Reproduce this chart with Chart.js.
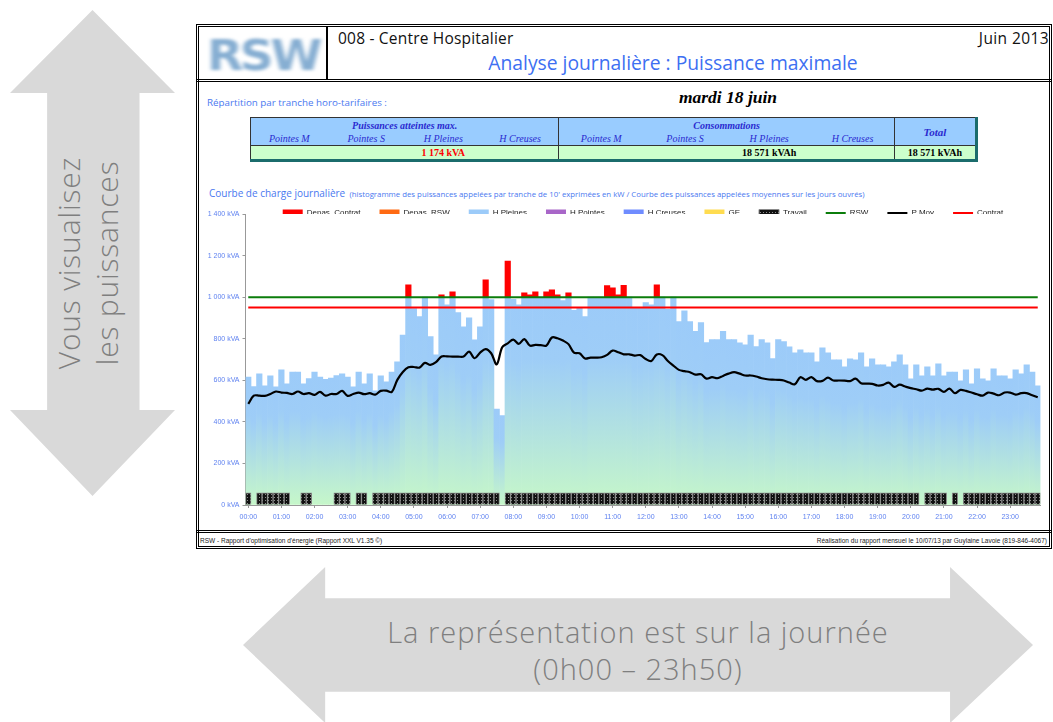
<!DOCTYPE html>
<html>
<head>
<meta charset="utf-8">
<script src="https://cdn.jsdelivr.net/npm/chart.js"></script>
<style>
  body { margin: 0; width: 1053px; height: 722px; background: #fff; position: relative; overflow: hidden; font-family: "Open Sans", sans-serif; }
  .abs { position: absolute; white-space: nowrap; }
  /* flèches grises */
  .fleche-v { left: 10px; top: 10px; width: 165px; height: 486px; background: #d9d9d9;
    clip-path: polygon(50% 0, 100% 17.1%, 78.5% 17.1%, 78.5% 82.3%, 100% 82.3%, 50% 100%, 0 82.3%, 22.5% 82.3%, 22.5% 17.1%, 0 17.1%); }
  .fleche-h { left: 243px; top: 567px; width: 790px; height: 156px; background: #d9d9d9;
    clip-path: polygon(0 50%, 10.4% 0, 10.4% 20%, 89.5% 20%, 89.5% 0, 100% 50%, 89.5% 100%, 89.5% 80%, 10.4% 80%, 10.4% 100%); }
  .txt-v { left: -62px; top: 225px; width: 300px; text-align: center; transform: rotate(-90deg); font-size: 30px; line-height: 38px; letter-spacing: 0.8px; color: #7f7f7f; font-weight: 300; white-space: normal; }
  .txt-h { left: 288px; top: 613px; width: 700px; text-align: center; font-size: 29px; line-height: 37px; letter-spacing: 1px; color: #7f7f7f; font-weight: 300; }
  /* rapport */
  .cadre { left: 196px; top: 24px; width: 856px; height: 525px; border: 3px double #000; box-sizing: border-box; }
  .hl { left: 196px; width: 856px; height: 0; border-top: 3px double #000; }
  .logo-cell { left: 199px; top: 27px; width: 127px; height: 53px; border-right: 2px solid #000; overflow: hidden; }
  .logo { left: 8px; top: 4px; font-family: "DejaVu Sans", sans-serif; font-weight: bold; font-size: 42px; color: #86aed2; letter-spacing: -3px; filter: blur(1.8px); transform: scaleX(1.12); transform-origin: left; }
  .bleu { color: #4a78f0; }
  table.tab { position: absolute; left: 250px; top: 117px; width: 728px; border-collapse: collapse; table-layout: fixed;
    font-family: "Liberation Serif", serif; font-style: italic; color: #2a2ad0; font-size: 10px;
    border-top: 1px solid #333; border-left: 1px solid #333; border-right: 3px solid #1b6c6c; border-bottom: 3px solid #1b6c6c; }
  table.tab td { padding: 0; text-align: center; white-space: nowrap; }
  table.tab tr.h1 td, table.tab tr.h2 td { background: #99ccff; }
  table.tab tr.h1 td { height: 14px; font-weight: bold; }
  table.tab tr.h2 td { height: 13px; }
  table.tab tr.d td { background: #ccffcc; height: 13px; font-style: normal; font-weight: bold; color: #000; border-top: 1px solid #333; }
  table.tab td.sep { border-left: 1px solid #333; }
  table.tab tr.d td.rouge { color: #ff0000; }
  .foot { font-family: "Liberation Sans", sans-serif; font-size: 6.5px; color: #222; top: 537px; }
  #graph { position: absolute; left: 198px; top: 190px; }
</style>
</head>
<body>
<div class="abs fleche-v"></div>
<div class="abs txt-v">Vous visualisez<br>les puissances</div>
<div class="abs fleche-h"></div>
<div class="abs txt-h">La représentation est sur la journée<br>(0h00 – 23h50)</div>

<div class="abs cadre"></div>
<div class="abs logo-cell"><div class="abs logo">RSW</div></div>
<div class="abs hl" style="top:79px"></div>
<div class="abs hl" style="top:530px"></div>
<div class="abs" style="left:338px;top:28px;font-size:15.5px;line-height:20px;letter-spacing:0.2px;color:#111">008 - Centre Hospitalier</div>
<div class="abs" style="right:4px;top:28px;font-size:15.5px;line-height:20px;letter-spacing:0.4px;color:#111">Juin 2013</div>
<div class="abs" style="left:423px;top:51px;width:500px;text-align:center;font-size:19.3px;line-height:24px;color:#3d6ff2">Analyse journalière : Puissance maximale</div>

<div class="abs bleu" style="left:207px;top:96px;font-size:9.8px;line-height:14px">Répartition par tranche horo-tarifaires :</div>
<div class="abs" style="left:628px;top:86px;width:200px;text-align:center;font-family:'Liberation Serif',serif;font-weight:bold;font-style:italic;font-size:17.5px;line-height:22px;color:#000">mardi 18 juin</div>

<table class="tab">
  <colgroup>
    <col style="width:77px"><col style="width:77px"><col style="width:77px"><col style="width:77px">
    <col style="width:84px"><col style="width:84px"><col style="width:84px"><col style="width:83px">
    <col style="width:82px">
  </colgroup>
  <tr class="h1"><td colspan="4">Puissances atteintes max.</td><td colspan="4" class="sep">Consommations</td><td rowspan="2" class="sep" style="font-weight:bold;font-size:11px">Total</td></tr>
  <tr class="h2"><td>Pointes M</td><td>Pointes S</td><td>H Pleines</td><td>H Creuses</td><td class="sep">Pointes M</td><td>Pointes S</td><td>H Pleines</td><td>H Creuses</td></tr>
  <tr class="d"><td></td><td></td><td class="rouge">1 174 kVA</td><td></td><td class="sep"></td><td></td><td>18 571 kVAh</td><td></td><td class="sep">18 571 kVAh</td></tr>
</table>

<div class="abs bleu" style="left:209px;top:183px;line-height:16px"><span style="font-size:10px">Courbe de charge journalière</span> <span style="font-size:7.8px">(histogramme des puissances appelées par tranche de 10' exprimées en kW / Courbe des puissances appelées moyennes sur les jours ouvrés)</span></div>

<canvas id="graph" width="846" height="333"></canvas>

<div class="abs foot" style="left:200px">RSW - Rapport d'optimisation d'énergie (Rapport XXL V1.35 ©)</div>
<div class="abs foot" style="right:6px">Réalisation du rapport mensuel le 10/07/13 par Guylaine Lavoie (819-846-4067)</div>

<script>
// tranches de 10 minutes, 00:00 -> 23:50
const HEURES = [];
for (let h = 0; h < 24; h++) {
  for (let m = 0; m < 60; m += 10) {
    HEURES.push(String(h).padStart(2, '0') + ':' + String(m).padStart(2, '0'));
  }
}

// puissance appelée par tranche (kVA)
const PUISSANCE = [
  616, 570, 631, 573, 621, 568, 650, 583, 640, 640, 583, 608,
  640, 616, 605, 611, 623, 631, 616, 568, 640, 583, 631, 549,
  621, 592, 640, 689, 818, 1059, 945, 906, 1000, 810, 722, 1011,
  963, 1025, 926, 857, 900, 795, 857, 1083, 988, 462, 430, 1174,
  989, 963, 1021, 1011, 1026, 1000, 1026, 1035, 1011, 984, 1021, 936,
  950, 906, 1000, 1000, 1000, 1056, 1045, 1011, 1057, 1000, 946, 948,
  974, 963, 1059, 1000, 941, 1000, 883, 934, 883, 835, 878, 782,
  796, 796, 835, 796, 796, 780, 770, 818, 762, 796, 780, 705,
  796, 786, 761, 732, 746, 732, 732, 689, 756, 732, 698, 698,
  665, 703, 698, 732, 665, 703, 674, 674, 665, 689, 722, 674,
  607, 674, 621, 665, 621, 679, 621, 640, 640, 597, 650, 583,
  655, 607, 597, 655, 621, 621, 607, 650, 631, 674, 640, 573
];

// puissance moyenne des jours ouvrés (kVA)
const P_MOY = [
  486, 526, 526, 525, 534, 546, 541, 539, 534, 546, 534, 538,
  530, 544, 526, 534, 534, 549, 525, 534, 541, 533, 538, 531,
  549, 550, 544, 602, 640, 663, 664, 661, 684, 674, 687, 714,
  715, 714, 714, 714, 738, 706, 733, 750, 730, 677, 759, 778,
  796, 775, 798, 767, 770, 769, 767, 806, 802, 791, 774, 733,
  730, 705, 709, 709, 711, 722, 743, 735, 725, 725, 719, 721,
  702, 693, 724, 721, 693, 671, 650, 644, 639, 627, 629, 608,
  615, 610, 621, 632, 639, 632, 623, 623, 618, 610, 605, 603,
  602, 599, 589, 581, 615, 602, 615, 596, 597, 613, 599, 599,
  598, 596, 608, 586, 584, 583, 575, 578, 589, 568, 579, 570,
  562, 557, 550, 560, 555, 559, 544, 560, 538, 554, 549, 541,
  533, 526, 541, 536, 528, 541, 541, 531, 538, 538, 528, 518
];

// 1 = période de travail
const TRAVAIL = [
  1, 0, 1, 1, 1, 1, 1, 1, 0, 0, 1, 1,
  0, 0, 0, 0, 1, 1, 1, 0, 1, 1, 0, 1,
  1, 1, 1, 1, 1, 1, 1, 1, 1, 1, 1, 1,
  1, 1, 1, 1, 1, 1, 1, 1, 1, 1, 0, 1,
  1, 1, 1, 1, 1, 1, 1, 1, 1, 1, 1, 1,
  1, 1, 1, 1, 1, 1, 1, 1, 1, 1, 1, 1,
  1, 1, 1, 1, 1, 1, 1, 1, 1, 1, 1, 1,
  1, 1, 1, 1, 1, 1, 1, 1, 1, 1, 1, 1,
  1, 1, 1, 1, 1, 1, 1, 1, 1, 1, 1, 1,
  1, 1, 1, 1, 1, 1, 1, 1, 1, 1, 1, 1,
  1, 1, 0, 1, 1, 1, 1, 0, 1, 0, 1, 1,
  1, 1, 1, 1, 1, 1, 1, 1, 1, 1, 1, 1
];

const RSW_KVA = 1000;
const CONTRAT_KVA = 950;
const TRAVAIL_KVA = 58;
const Y_MAX = 1400;
const Y_PAS = 200;

const canvas = document.getElementById('graph');
const ctx = canvas.getContext('2d');

// motif noir pointillé pour "Travail"
function motifTravail() {
  const c = document.createElement('canvas');
  c.width = 3; c.height = 3;
  const g = c.getContext('2d');
  g.fillStyle = '#111';
  g.fillRect(0, 0, 3, 3);
  g.fillStyle = '#8c8c8c';
  g.fillRect(1, 1, 1, 1);
  return ctx.createPattern(c, 'repeat');
}

// dégradé bleu -> vert sur chaque barre
function degradeBarre(c) {
  const chart = c.chart;
  const y = chart.scales.y;
  if (!chart.chartArea || !y || c.raw == null) return '#9ccbf9';
  const haut = y.getPixelForValue(c.raw);
  const bas = y.getPixelForValue(0);
  const g = chart.ctx.createLinearGradient(0, haut, 0, bas);
  g.addColorStop(0, '#9ccbf9');
  g.addColorStop(0.3, '#9ecdf7');
  g.addColorStop(1, '#c6f7c9');
  return g;
}

function kva(v) {
  return String(v).replace(/\B(?=(\d{3})+(?!\d))/g, ' ') + ' kVA';
}

const policeAxe = { family: 'Liberation Sans', size: 7 };

const chart = new Chart(ctx, {
  data: {
    labels: HEURES,
    datasets: [
      {
        type: 'bar', label: 'Depas. Contrat',
        data: PUISSANCE.map(v => v > RSW_KVA ? [RSW_KVA, v] : null),
        backgroundColor: '#ff0000', grouped: false, barPercentage: 1, categoryPercentage: 1,
        pointStyle: 'rect', order: 4
      },
      { type: 'bar', label: 'Depas. RSW', data: [], backgroundColor: '#ff6a13', pointStyle: 'rect', order: 6 },
      {
        type: 'bar', label: 'H Pleines',
        data: PUISSANCE.map(v => Math.min(v, RSW_KVA)),
        backgroundColor: degradeBarre, grouped: false, barPercentage: 1, categoryPercentage: 1,
        pointStyle: 'rect', order: 5
      },
      { type: 'bar', label: 'H Pointes', data: [], backgroundColor: '#a866c8', pointStyle: 'rect', order: 6 },
      { type: 'bar', label: 'H Creuses', data: [], backgroundColor: '#6f8cff', pointStyle: 'rect', order: 6 },
      { type: 'bar', label: 'GE', data: [], backgroundColor: '#ffdc50', pointStyle: 'rect', order: 6 },
      {
        type: 'bar', label: 'Travail',
        data: TRAVAIL.map(t => t ? TRAVAIL_KVA : null),
        backgroundColor: motifTravail(), borderColor: '#8a8a8a', borderWidth: 1,
        grouped: false, barPercentage: 1, categoryPercentage: 1,
        pointStyle: 'rect', order: 3
      },
      {
        type: 'line', label: 'RSW', data: HEURES.map(() => RSW_KVA),
        borderColor: '#0b7d0b', borderWidth: 2, pointRadius: 0, pointStyle: 'line', order: 1
      },
      {
        type: 'line', label: 'P Moy', data: P_MOY,
        borderColor: '#000', borderWidth: 2.2, pointRadius: 0, tension: 0.35, pointStyle: 'line', order: 0
      },
      {
        type: 'line', label: 'Contrat', data: HEURES.map(() => CONTRAT_KVA),
        borderColor: '#ff0000', borderWidth: 2, pointRadius: 0, pointStyle: 'line', order: 2
      }
    ]
  },
  options: {
    responsive: false,
    animation: false,
    devicePixelRatio: 1,
    layout: { padding: { top: 0, right: 3.5, bottom: 0, left: 0 } },
    plugins: {
      tooltip: { enabled: false },
      legend: {
        position: 'top',
        fullSize: false,
        labels: {
          usePointStyle: true,
          pointStyleWidth: 20,
          boxHeight: 7,
          padding: 19,
          color: '#222',
          font: { family: 'Liberation Sans', size: 8 },
          sort: (a, b) => a.datasetIndex - b.datasetIndex
        }
      }
    },
    scales: {
      x: {
        offset: true,
        grid: { drawOnChartArea: false, tickLength: 3, color: '#999', offset: false },
        border: { color: '#999' },
        ticks: {
          autoSkip: false, maxRotation: 0, padding: 5,
          color: '#5f82f0', font: policeAxe,
          callback: function (v, i) { return i % 6 === 0 ? this.getLabelForValue(v) : null; }
        },
        afterFit: s => { s.height = 18; }
      },
      y: {
        min: 0, max: Y_MAX,
        grid: { drawOnChartArea: false, tickLength: 3, color: '#999' },
        border: { color: '#999' },
        ticks: { stepSize: Y_PAS, padding: 3, color: '#5f82f0', font: policeAxe, callback: v => kva(v) },
        afterFit: s => { s.width = 47.5; }
      }
    }
  }
});

// la légende partage la hauteur du haut du graphique
const fitLegende = chart.legend.fit;
chart.legend.fit = function () {
  fitLegende.call(this);
  this.height = 24;
};
chart.update();
</script>
</body>
</html>
